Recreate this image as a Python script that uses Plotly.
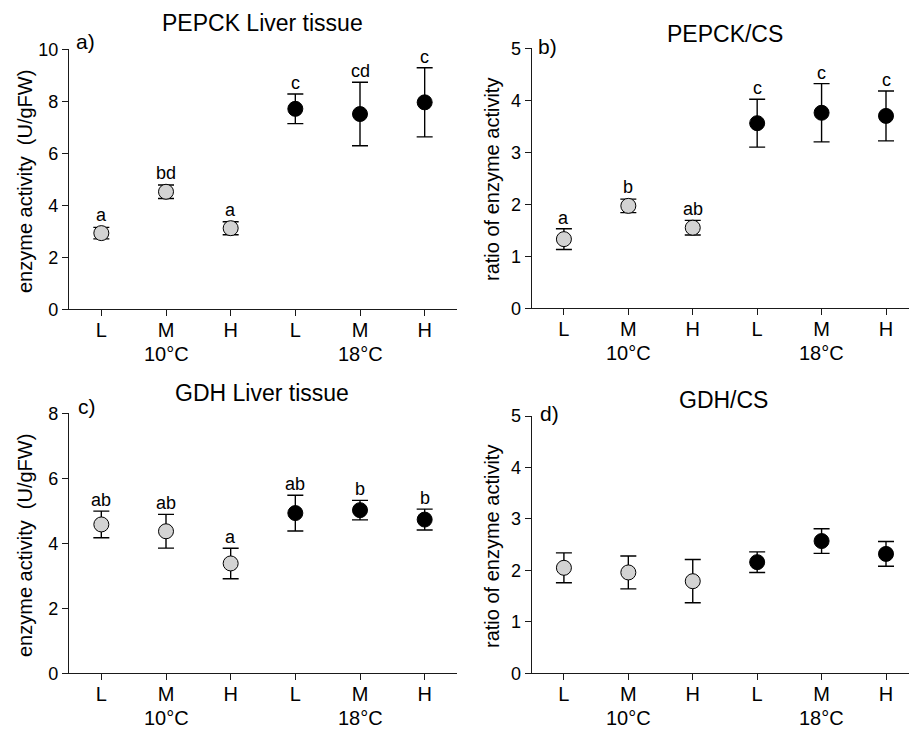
import plotly.graph_objects as go

# ---- data -------------------------------------------------------------
levels = ["L", "M", "H", "L", "M", "H"]
temperatures = ["10°C", "18°C"]

pepck_liver_mean = [2.93, 4.52, 3.12, 7.71, 7.51, 7.96]
pepck_liver_err = [0.22, 0.26, 0.25, 0.57, 1.22, 1.33]
pepck_liver_letters = ["a", "bd", "a", "c", "cd", "c"]

pepck_cs_mean = [1.33, 1.97, 1.55, 3.56, 3.76, 3.70]
pepck_cs_err = [0.20, 0.13, 0.14, 0.46, 0.56, 0.48]
pepck_cs_letters = ["a", "b", "ab", "c", "c", "c"]

gdh_liver_mean = [4.58, 4.37, 3.38, 4.93, 5.02, 4.73]
gdh_liver_err = [0.41, 0.52, 0.47, 0.55, 0.30, 0.32]
gdh_liver_letters = ["ab", "ab", "a", "ab", "b", "b"]

gdh_cs_mean = [2.05, 1.96, 1.79, 2.16, 2.57, 2.32]
gdh_cs_err = [0.29, 0.32, 0.42, 0.20, 0.24, 0.24]
gdh_cs_letters = ["", "", "", "", "", ""]

# ---- layout constants (pixels) ----------------------------------------
W, H = 909, 731
FONT = "Liberation Sans, Arial, Helvetica, sans-serif"
GRAY = "#d3d3d3"
AXIS = "#1a1a1a"


def px(x):
    return x / W


def py(y):
    return 1 - y / H


panels = [
    dict(title="PEPCK Liver tissue", tag="a)", mean=pepck_liver_mean, err=pepck_liver_err,
         letters=pepck_liver_letters, ymax=10, dtick=2, ytitle="enzyme activity  (U/gFW)",
         x0=69, x1=457, xr=5.5, ytop=49.3, ybot=309.3,
         title_xy=(262, 22.5), tag_xy=(74, 41.5), ytitle_xy=(25, 182)),
    dict(title="PEPCK/CS", tag="b)", mean=pepck_cs_mean, err=pepck_cs_err,
         letters=pepck_cs_letters, ymax=5, dtick=1, ytitle="ratio of enzyme activity",
         x0=531.7, x1=909, xr=5.357, ytop=48.3, ybot=308.3,
         title_xy=(725, 34), tag_xy=(536, 46), ytitle_xy=(492, 180)),
    dict(title="GDH Liver tissue", tag="c)", mean=gdh_liver_mean, err=gdh_liver_err,
         letters=gdh_liver_letters, ymax=8, dtick=2, ytitle="enzyme activity  (U/gFW)",
         x0=69, x1=457, xr=5.5, ytop=413.3, ybot=673.3,
         title_xy=(262, 393), tag_xy=(76, 406), ytitle_xy=(25, 546)),
    dict(title="GDH/CS", tag="d)", mean=gdh_cs_mean, err=gdh_cs_err,
         letters=gdh_cs_letters, ymax=5, dtick=1, ytitle="ratio of enzyme activity",
         x0=531.7, x1=909, xr=5.357, ytop=416, ybot=673.3,
         title_xy=(723, 400), tag_xy=(538, 413), ytitle_xy=(492, 547)),
]

positions = list(range(len(levels)))

fig = go.Figure()
annotations = []
layout_axes = {}

for k, p in enumerate(panels, start=1):
    sfx = "" if k == 1 else str(k)
    xa, ya = f"x{sfx}", f"y{sfx}"
    colors = [GRAY if i < 3 else "black" for i in positions]

    fig.add_trace(go.Scatter(
        x=positions, y=p["mean"], xaxis=xa, yaxis=ya, mode="markers",
        marker=dict(size=15, color=colors, line=dict(color="black", width=1)),
        error_y=dict(type="data", array=p["err"], visible=True,
                     color="black", thickness=1.4, width=8),
        showlegend=False, cliponaxis=False,
    ))

    layout_axes[f"xaxis{sfx}"] = dict(
        domain=[px(p["x0"]), px(p["x1"])], range=[-0.5, p["xr"]], anchor=ya,
        tickmode="array", tickvals=positions, ticktext=levels, automargin=False,
        showline=True, linecolor=AXIS, linewidth=1.3, ticks="outside",
        ticklen=6, tickwidth=1.3, tickcolor=AXIS, showgrid=False, zeroline=False,
        ticklabelstandoff=-3,
        tickfont=dict(size=20, color="black", family=FONT), fixedrange=True,
    )
    layout_axes[f"yaxis{sfx}"] = dict(
        domain=[py(p["ybot"]), py(p["ytop"])], range=[0, p["ymax"]], anchor=xa,
        dtick=p["dtick"], tick0=0, automargin=False,
        showline=True, linecolor=AXIS, linewidth=1.3, ticks="outside",
        ticklen=6, tickwidth=1.3, tickcolor=AXIS, showgrid=False, zeroline=False,
        tickfont=dict(size=18, color="black", family=FONT), fixedrange=True,
    )

    # temperature group label under the middle level of each group
    for g, temp in enumerate(temperatures):
        annotations.append(dict(
            x=3 * g + 1, y=0, xref=xa, yref=ya, text=temp, showarrow=False,
            xanchor="center", yanchor="middle", yshift=-45,
            font=dict(size=20, color="black", family=FONT),
        ))

    # significance letters above each point
    unit_px = (p["ybot"] - p["ytop"]) / p["ymax"]
    for i, (m, e, lab) in enumerate(zip(p["mean"], p["err"], p["letters"])):
        if not lab:
            continue
        annotations.append(dict(
            x=i, y=m, xref=xa, yref=ya, text=lab, showarrow=False,
            yanchor="bottom", xanchor="center",
            yshift=max(e * unit_px, 7.5) - 1,
            font=dict(size=18, color="black", family=FONT),
        ))

    # panel title, tag and y-axis title
    tx, ty = p["title_xy"]
    annotations.append(dict(x=px(tx), y=py(ty), xref="paper", yref="paper",
                            text=p["title"], showarrow=False, xanchor="center",
                            yanchor="middle", font=dict(size=23, color="black", family=FONT)))
    gx, gy = p["tag_xy"]
    annotations.append(dict(x=px(gx), y=py(gy), xref="paper", yref="paper",
                            text=p["tag"], showarrow=False, xanchor="left",
                            yanchor="middle", font=dict(size=21, color="black", family=FONT)))
    ax_, ay_ = p["ytitle_xy"]
    annotations.append(dict(x=px(ax_), y=py(ay_), xref="paper", yref="paper",
                            text=p["ytitle"], showarrow=False, textangle=-90,
                            xanchor="center", yanchor="middle",
                            font=dict(size=20, color="black", family=FONT)))

fig.update_layout(
    width=W, height=H,
    margin=dict(l=0, r=0, t=0, b=0, autoexpand=False),
    paper_bgcolor="white", plot_bgcolor="white",
    font=dict(family=FONT, color="black"),
    annotations=annotations,
    **layout_axes,
)

fig.write_html("out.html", config={"displayModeBar": False})
